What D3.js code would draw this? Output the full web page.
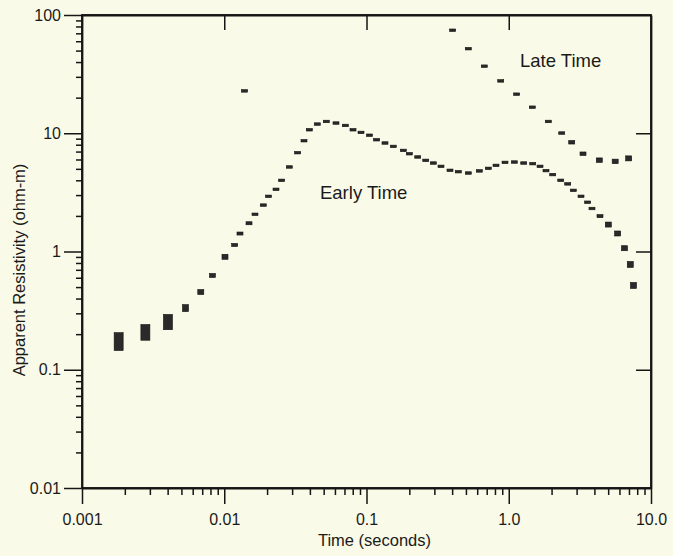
<!DOCTYPE html>
<html>
<head>
<meta charset="utf-8">
<script src="https://cdn.jsdelivr.net/npm/d3@7"></script>
<style>
  html, body { margin: 0; padding: 0; background: #fafae8; }
  svg { display: block; }
  text { font-family: "Liberation Sans", Arial, sans-serif; fill: #1a1a1a; }
</style>
</head>
<body>
<svg id="chart" width="673" height="556"></svg>
<script>
// ---- data ----
const earlyTime = [0.00181, 0.00279, 0.00402, 0.00534, 0.00684, 0.00826, 0.01012, 0.01184, 0.0129, 0.01493,
  0.01645, 0.01881, 0.02047, 0.02311, 0.02534, 0.02866, 0.03283, 0.03636, 0.03962, 0.04508,
  0.05217, 0.06103, 0.07096, 0.08038, 0.09148, 0.1050, 0.1179, 0.1349, 0.1543, 0.1815,
  0.2000, 0.2291, 0.2608, 0.2948, 0.3340, 0.3863, 0.4418, 0.5195, 0.6209, 0.7184,
  0.8136, 0.9412, 1.094, 1.274, 1.474, 1.659, 1.827, 2.037, 2.319, 2.597,
  2.844, 3.221, 3.589, 3.847, 4.380, 5.01, 5.83, 6.51, 7.15, 7.53];
const earlyRho = [0.173, 0.207, 0.253, 0.332, 0.454, 0.627, 0.902, 1.135, 1.419, 1.733,
  2.064, 2.469, 2.929, 3.356, 3.997, 5.185, 6.847, 8.645, 10.70, 11.96,
  12.58, 12.20, 11.64, 10.70, 10.16, 9.62, 8.81, 8.27, 7.74, 7.16,
  6.71, 6.30, 5.90, 5.60, 5.25, 4.86, 4.73, 4.61, 4.80, 5.05,
  5.35, 5.67, 5.71, 5.60, 5.53, 5.25, 4.83, 4.47, 4.00, 3.73,
  3.29, 2.93, 2.61, 2.31, 1.99, 1.69, 1.42, 1.066, 0.777, 0.516];
const earlyErr = [0.19, 0.165, 0.16, 0.07, 0.05, 0.04, 0.05, 0.03, 0.03, 0.03,
  0.02, 0.02, 0.02, 0.02, 0.02, 0.02, 0.02, 0.02, 0.02, 0.02,
  0.02, 0.02, 0.02, 0.02, 0.02, 0.02, 0.02, 0.02, 0.02, 0.02,
  0.02, 0.02, 0.02, 0.02, 0.02, 0.02, 0.02, 0.02, 0.02, 0.02,
  0.02, 0.02, 0.02, 0.02, 0.02, 0.02, 0.02, 0.02, 0.02, 0.02,
  0.02, 0.02, 0.02, 0.025, 0.03, 0.05, 0.05, 0.05, 0.06, 0.06];

const lateTime = [0.4036, 0.5195, 0.673, 0.878, 1.137, 1.464, 1.897, 2.357, 2.771, 3.327, 4.33, 5.60, 6.97];
const lateRho = [74.3, 51.9, 36.9, 27.7, 21.4, 16.6, 12.58, 10.04, 8.39, 6.71, 5.92, 5.78, 6.13];
const lateErr = [0.025, 0.025, 0.025, 0.02, 0.02, 0.025, 0.025, 0.025, 0.035, 0.035, 0.045, 0.045, 0.05];

const strayTime = [0.01388];
const strayRho = [22.8];
const strayErr = [0.015];

const xTicks = [0.001, 0.01, 0.1, 1, 10];
const xTickLabels = ["0.001", "0.01", "0.1", "1.0", "10.0"];
const yTicks = [0.01, 0.1, 1, 10, 100];
const yTickLabels = ["0.01", "0.1", "1", "10", "100"];

const xTitle = "Time (seconds)";
const yTitle = "Apparent Resistivity (ohm-m)";
const annotations = [
  { text: "Late Time", t: 1.2, rho: 36.4 },
  { text: "Early Time", t: 0.0471, rho: 2.8 }
];

// ---- layout ----
const L = 82, R = 651, T = 15, B = 488;
const svg = d3.select("#chart");
svg.append("rect").attr("width", 673).attr("height", 556).attr("fill", "#fafae8");

const x = d3.scaleLog().domain([0.001, 10]).range([L, R]);
const y = d3.scaleLog().domain([0.01, 100]).range([B, T]);

function minors(lo, hi) {
  const out = [];
  for (let d = lo; d < hi * 0.999; d *= 10)
    for (let k = 2; k <= 9; k++) out.push(d * k);
  return out;
}

const axisColor = "#151515";
function styleAxis(g) {
  g.selectAll("path.domain").attr("stroke", axisColor).attr("stroke-width", 1.8);
  g.selectAll(".tick line").attr("stroke", axisColor).attr("stroke-width", 1.5);
  g.selectAll(".tick text").attr("font-size", 16).attr("fill", "#1a1a1a")
    .attr("font-family", "'Liberation Sans', Arial, sans-serif");
}

// frame
svg.append("rect").attr("x", L).attr("y", T).attr("width", R - L).attr("height", B - T)
  .attr("fill", "none").attr("stroke", axisColor).attr("stroke-width", 1.8);

// bottom axis
svg.append("g").attr("transform", `translate(0,${B})`)
  .call(d3.axisBottom(x).tickValues(minors(0.001, 10)).tickSize(7).tickFormat("").tickSizeOuter(0))
  .call(styleAxis).call(g => g.select("path.domain").remove());
svg.append("g").attr("transform", `translate(0,${B})`)
  .call(d3.axisBottom(x).tickValues(xTicks).tickSize(16).tickPadding(10)
    .tickFormat((d, i) => xTickLabels[i]).tickSizeOuter(0))
  .call(styleAxis);

// left axis
svg.append("g").attr("transform", `translate(${L},0)`)
  .call(d3.axisLeft(y).tickValues(minors(0.01, 100)).tickSize(6).tickFormat("").tickSizeOuter(0))
  .call(styleAxis).call(g => g.select("path.domain").remove());
svg.append("g").attr("transform", `translate(${L},0)`)
  .call(d3.axisLeft(y).tickValues(yTicks).tickSize(18).tickPadding(3)
    .tickFormat((d, i) => yTickLabels[i]).tickSizeOuter(0))
  .call(styleAxis);

// top axis: inward majors
svg.append("g").attr("transform", `translate(0,${T})`)
  .call(d3.axisTop(x).tickValues(xTicks.slice(1, -1)).tickSize(-15).tickFormat("").tickSizeOuter(0))
  .call(styleAxis);

// right axis: inward majors
svg.append("g").attr("transform", `translate(${R},0)`)
  .call(d3.axisRight(y).tickValues(yTicks.slice(1, -1)).tickSize(-15).tickFormat("").tickSizeOuter(0))
  .call(styleAxis);

// axis titles
svg.append("text").attr("x", (L + R) / 2 + 8).attr("y", 546).attr("text-anchor", "middle")
  .attr("font-size", 16.5).text(xTitle);
svg.append("text").attr("transform", "translate(25,270) rotate(-90)").attr("text-anchor", "middle")
  .attr("font-size", 16.5).text(yTitle);

// markers
function drawSeries(ts, rs, es, cls) {
  const pts = ts.map((t, i) => ({ t, r: rs[i], e: es[i] }));
  svg.append("g").attr("class", cls).selectAll("rect").data(pts).join("rect")
    .each(function (d) {
      const top = y(d.r * (1 + d.e)), bot = y(d.r / (1 + d.e));
      const h = Math.max(2.5, bot - top);
      const w = d.e > 0.1 ? 9 : 6;
      d3.select(this)
        .attr("x", x(d.t) - w / 2)
        .attr("y", y(d.r) - h / 2)
        .attr("width", w).attr("height", h);
    })
    .attr("fill", "#2a2a2a").attr("stroke", "#111").attr("stroke-width", 0.6);
}
drawSeries(earlyTime, earlyRho, earlyErr, "early");
drawSeries(lateTime, lateRho, lateErr, "late");
drawSeries(strayTime, strayRho, strayErr, "stray");

// annotations
svg.append("g").selectAll("text").data(annotations).join("text")
  .attr("x", d => x(d.t)).attr("y", d => y(d.rho))
  .attr("font-size", 18.5).text(d => d.text);
</script>
</body>
</html>
